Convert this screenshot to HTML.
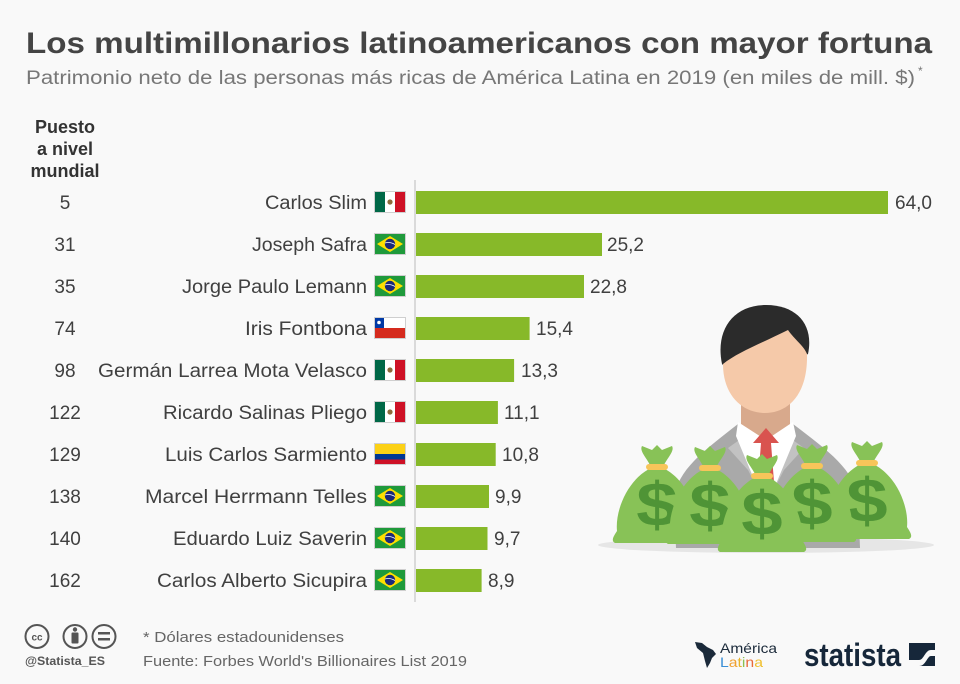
<!DOCTYPE html>
<html>
<head>
<meta charset="utf-8">
<style>
html,body{margin:0;padding:0;background:#f9f9f9;}
svg{display:block;}
text{font-family:"Liberation Sans",sans-serif;}
</style>
</head>
<body>
<svg width="960" height="684" viewBox="0 0 960 684" xmlns="http://www.w3.org/2000/svg">
<rect x="0" y="0" width="960" height="684" fill="#f9f9f9"/>

<!-- Title -->
<text x="26" y="53" font-size="30" font-weight="bold" fill="#444" textLength="906" lengthAdjust="spacingAndGlyphs">Los multimillonarios latinoamericanos con mayor fortuna</text>
<text x="26" y="84" font-size="19" fill="#777" textLength="889" lengthAdjust="spacingAndGlyphs">Patrimonio neto de las personas más ricas de América Latina en 2019 (en miles de mill. $)</text>
<text x="918" y="75" font-size="12" fill="#777">*</text>

<!-- Column header -->
<g font-size="18" font-weight="bold" fill="#333" text-anchor="middle">
<text x="65" y="133">Puesto</text>
<text x="65" y="155">a nivel</text>
<text x="65" y="177">mundial</text>
</g>

<!-- axis -->
<line x1="415" y1="180" x2="415" y2="602" stroke="#cfcfcf" stroke-width="1.5"/>

<defs>
<g id="mx">
<rect x="0" y="0" width="32" height="22" fill="#fff"/>
<rect x="0" y="0" width="11" height="22" fill="#006847"/>
<rect x="21" y="0" width="11" height="22" fill="#ce1126"/>
<circle cx="16" cy="11" r="2.6" fill="#8c6a3a"/>
<rect x="0.5" y="0.5" width="31" height="21" fill="none" stroke="#cfcfcf"/>
</g>
<g id="br">
<rect x="0" y="0" width="32" height="22" fill="#1f9a3b"/>
<polygon points="16,3 29,11 16,19 3,11" fill="#fedf00"/>
<circle cx="16" cy="11" r="5.2" fill="#1b2a7a"/>
<path d="M11,10 Q16,8.5 21,11.5" stroke="#fff" stroke-width="0.8" fill="none"/>
<rect x="0.5" y="0.5" width="31" height="21" fill="none" stroke="#cfcfcf"/>
</g>
<g id="cl">
<rect x="0" y="0" width="32" height="11" fill="#fff"/>
<rect x="0" y="11" width="32" height="11" fill="#d52b1e"/>
<rect x="0" y="0" width="10" height="11" fill="#0039a6"/>
<circle cx="5" cy="5.5" r="1.8" fill="#fff"/>
<rect x="0.5" y="0.5" width="31" height="21" fill="none" stroke="#cfcfcf"/>
</g>
<g id="co">
<rect x="0" y="0" width="32" height="11" fill="#fcd116"/>
<rect x="0" y="11" width="32" height="5.5" fill="#003893"/>
<rect x="0" y="16.5" width="32" height="5.5" fill="#ce1126"/>
<rect x="0.5" y="0.5" width="31" height="21" fill="none" stroke="#cfcfcf"/>
</g>
</defs>

<!-- Rows -->
<g font-size="19" fill="#404040">
<text x="65" y="209" text-anchor="middle">5</text>
<text x="265" y="209" textLength="102" lengthAdjust="spacingAndGlyphs">Carlos Slim</text>
<use href="#mx" x="374" y="191"/>
<rect x="416" y="191" width="472" height="23" fill="#87b929"/>
<text x="895" y="209">64,0</text>

<text x="65" y="251" text-anchor="middle">31</text>
<text x="252" y="251" textLength="115" lengthAdjust="spacingAndGlyphs">Joseph Safra</text>
<use href="#br" x="374" y="233"/>
<rect x="416" y="233" width="186" height="23" fill="#87b929"/>
<text x="607" y="251">25,2</text>

<text x="65" y="293" text-anchor="middle">35</text>
<text x="182" y="293" textLength="185" lengthAdjust="spacingAndGlyphs">Jorge Paulo Lemann</text>
<use href="#br" x="374" y="275"/>
<rect x="416" y="275" width="168" height="23" fill="#87b929"/>
<text x="590" y="293">22,8</text>

<text x="65" y="335" text-anchor="middle">74</text>
<text x="245" y="335" textLength="122" lengthAdjust="spacingAndGlyphs">Iris Fontbona</text>
<use href="#cl" x="374" y="317"/>
<rect x="416" y="317" width="113.6" height="23" fill="#87b929"/>
<text x="536" y="335">15,4</text>

<text x="65" y="377" text-anchor="middle">98</text>
<text x="98" y="377" textLength="269" lengthAdjust="spacingAndGlyphs">Germán Larrea Mota Velasco</text>
<use href="#mx" x="374" y="359"/>
<rect x="416" y="359" width="98.1" height="23" fill="#87b929"/>
<text x="521" y="377">13,3</text>

<text x="65" y="419" text-anchor="middle">122</text>
<text x="163" y="419" textLength="204" lengthAdjust="spacingAndGlyphs">Ricardo Salinas Pliego</text>
<use href="#mx" x="374" y="401"/>
<rect x="416" y="401" width="81.9" height="23" fill="#87b929"/>
<text x="504" y="419">11,1</text>

<text x="65" y="461" text-anchor="middle">129</text>
<text x="165" y="461" textLength="202" lengthAdjust="spacingAndGlyphs">Luis Carlos Sarmiento</text>
<use href="#co" x="374" y="443"/>
<rect x="416" y="443" width="79.7" height="23" fill="#87b929"/>
<text x="502" y="461">10,8</text>

<text x="65" y="503" text-anchor="middle">138</text>
<text x="145" y="503" textLength="222" lengthAdjust="spacingAndGlyphs">Marcel Herrmann Telles</text>
<use href="#br" x="374" y="485"/>
<rect x="416" y="485" width="73" height="23" fill="#87b929"/>
<text x="495" y="503">9,9</text>

<text x="65" y="545" text-anchor="middle">140</text>
<text x="173" y="545" textLength="194" lengthAdjust="spacingAndGlyphs">Eduardo Luiz Saverin</text>
<use href="#br" x="374" y="527"/>
<rect x="416" y="527" width="71.5" height="23" fill="#87b929"/>
<text x="494" y="545">9,7</text>

<text x="65" y="587" text-anchor="middle">162</text>
<text x="157" y="587" textLength="210" lengthAdjust="spacingAndGlyphs">Carlos Alberto Sicupira</text>
<use href="#br" x="374" y="569"/>
<rect x="416" y="569" width="65.6" height="23" fill="#87b929"/>
<text x="488" y="587">8,9</text>
</g>

<!-- Illustration -->
<ellipse cx="766" cy="545" rx="168" ry="8" fill="#e6e6e6"/>
<path d="M676,548 L674,498 C678,470 702,452 738,424 L766,440 L793,424 C830,452 854,470 858,498 L860,548 Z" fill="#a9a9a9"/>
<path d="M738,424 L766,505 L748,470 L728,448 L742,438 Z" fill="#c2c2c2"/>
<path d="M793,424 L766,505 L784,470 L804,448 L790,438 Z" fill="#c2c2c2"/>
<path d="M741,392 L790,392 L790,428 L766,440 L741,428 Z" fill="#d8a98c"/>
<path d="M738,422 L766,440 L793,422 L796,436 L766,508 L736,436 Z" fill="#ffffff"/>
<path d="M766,428 L779,443 L771,443 L775,495 L766,505 L757,495 L761,443 L753,443 Z" fill="#d9534f"/>
<path d="M722,364 C715,330 733,305 766,305 C798,305 814,326 808,354 L796,360 L730,372 Z" fill="#2b2b2b"/>
<path d="M723,364 C738,352 762,343 788,330 C795,340 804,346 807,354 C808,396 787,413 765,413 C743,413 723,396 723,364 Z" fill="#f5c9a9"/>

<defs>
<g id="bag">
<path d="M-8,2 C-30,14 -42,44 -40,64 C-44,70 -46,74 -42,76 L42,76 C46,74 44,70 40,64 C42,44 30,14 8,2 Z" fill="#88c257"/>
<path d="M-6,0 C-10,-9 -18,-16 -15,-21 L-5,-17 L0,-22 L5,-17 L15,-21 C18,-16 10,-9 6,0 Z" fill="#88c257"/>
<rect x="-11" y="-3" width="22" height="6" rx="3" fill="#f7c55a"/>
<text x="0" y="59" text-anchor="middle" font-size="62" font-weight="bold" fill="#4f9436" transform="scale(1.2,1)" style="font-family:'Liberation Sans',sans-serif">$</text>
</g>
</defs>
<use href="#bag" x="657" y="467"/>
<use href="#bag" x="867" y="463"/>
<use href="#bag" x="710" y="468"/>
<use href="#bag" x="812" y="466"/>
<use href="#bag" x="762" y="476"/>

<!-- Footer -->
<g fill="none" stroke="#555" stroke-width="2">
<circle cx="37" cy="636.5" r="11.5"/>
<circle cx="75" cy="636.5" r="11.5"/>
<circle cx="104" cy="636.5" r="11.5"/>
</g>
<text x="37" y="640.5" text-anchor="middle" font-size="10" font-weight="bold" fill="#555">cc</text>
<circle cx="75" cy="629.5" r="2.2" fill="#555"/>
<rect x="71.5" y="632.5" width="7" height="11" rx="1" fill="#555"/>
<rect x="98" y="632" width="12" height="2.5" fill="#555"/>
<rect x="98" y="638" width="12" height="2.5" fill="#555"/>
<text x="25" y="665" font-size="12" font-weight="bold" fill="#555" textLength="80" lengthAdjust="spacingAndGlyphs">@Statista_ES</text>
<text x="143" y="642" font-size="15" fill="#666" textLength="201" lengthAdjust="spacingAndGlyphs">* Dólares estadounidenses</text>
<text x="143" y="666" font-size="15" fill="#666" textLength="324" lengthAdjust="spacingAndGlyphs">Fuente: Forbes World's Billionaires List 2019</text>

<path d="M695,642 L702,643 L707,647 L713,650 L716,654 L712,658 L710,663 L707,668 L705,661 L703,653 L697,648 Z" fill="#1b2a3a"/>
<text x="720" y="653" font-size="14" fill="#1b2a3a" textLength="57" lengthAdjust="spacingAndGlyphs">América</text>
<text x="720" y="667" font-size="14" textLength="43" lengthAdjust="spacingAndGlyphs"><tspan fill="#3a8fd6">L</tspan><tspan fill="#f0a030">a</tspan><tspan fill="#e8b32a">t</tspan><tspan fill="#8cc152">i</tspan><tspan fill="#e86b3a">n</tspan><tspan fill="#f0c030">a</tspan></text>

<text x="804" y="666" font-size="32" font-weight="bold" fill="#16273a" textLength="97" lengthAdjust="spacingAndGlyphs">statista</text>
<rect x="909" y="643" width="26" height="23" fill="#16273a"/>
<path d="M909,660 L919,660 C924,660 925,650 931,650 L935,650 L935,656 L931,656 C927,656 926,666 919,666 L909,666 Z" fill="#f9f9f9"/>
</svg>
</body>
</html>
